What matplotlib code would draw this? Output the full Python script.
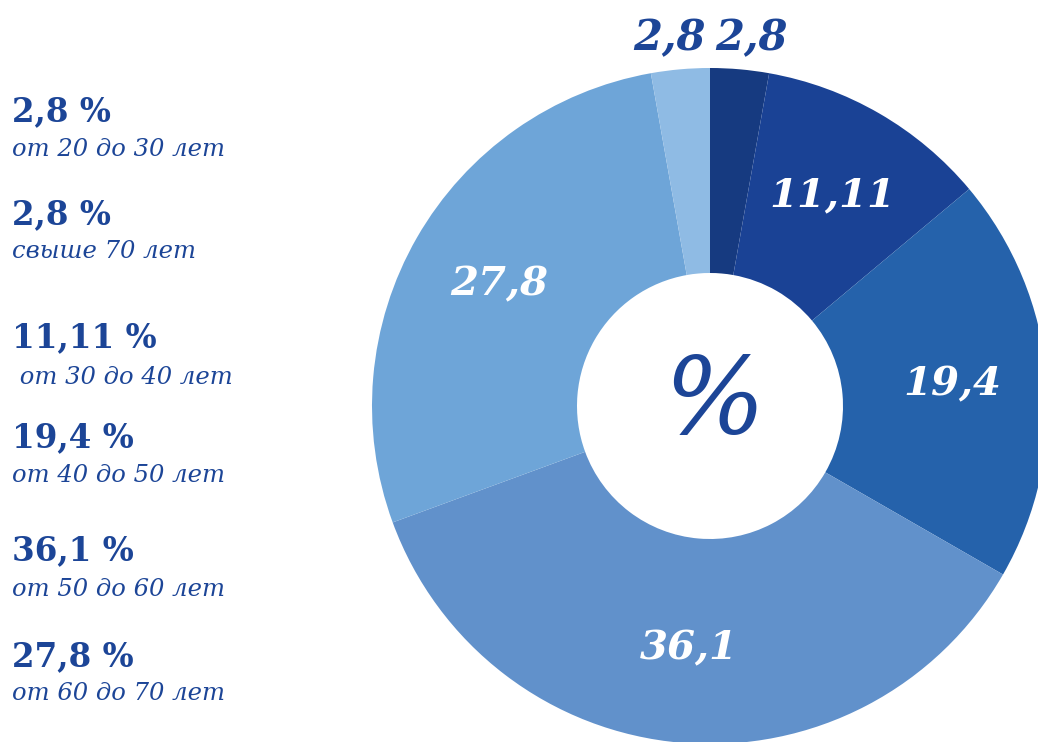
import numpy as np
import matplotlib.pyplot as plt

# age groups, clockwise from the top of the ring
groups = ['свыше 70 лет', 'от 30 до 40 лет', 'от 40 до 50 лет',
          'от 50 до 60 лет', 'от 60 до 70 лет', 'от 20 до 30 лет']
shares = [2.8, 11.11, 19.4, 36.1, 27.8, 2.8]
share_labels = ['2,8', '11,11', '19,4', '36,1', '27,8', '2,8']
colors = ['#163a80', '#1a4295', '#2562ab', '#6191cb', '#6ea5d8', '#8fbbe4']

# left-hand list, top to bottom
legend_values = ['2,8 %', '2,8 %', '11,11 %', '19,4 %', '36,1 %', '27,8 %']
legend_groups = ['от 20 до 30 лет', 'свыше 70 лет', ' от 30 до 40 лет',
                 'от 40 до 50 лет', 'от 50 до 60 лет', 'от 60 до 70 лет']

W, H = 1038, 742
TEXT = '#1c4597'
SERIF = ['DejaVu Serif']


def top(y):
    # pixel rows counted from the top
    return H - y


fig = plt.figure(figsize=(W / 100, H / 100), dpi=100)
ax = fig.add_axes([0, 0, 1, 1])

R_OUT, R_IN = 338, 133
cx, cy = 710, top(406)
wedges, _ = ax.pie(shares, colors=colors, startangle=90, counterclock=False,
                   radius=R_OUT, center=(cx, cy),
                   wedgeprops=dict(width=R_OUT - R_IN, linewidth=0))

for w, lab, val in zip(wedges, share_labels, shares):
    ang = np.deg2rad((w.theta1 + w.theta2) / 2)
    if val < 5:
        # small slices get their label above the ring, side by side
        x = cx + np.sign(np.cos(ang)) * 41
        ax.text(x, cy + 368, lab, color=TEXT, fontsize=30,
                fontweight='bold', fontstyle='italic', family=SERIF,
                ha='center', va='center')
    else:
        r = 0.72 * R_OUT
        ax.text(cx + r * np.cos(ang), cy + r * np.sin(ang), lab,
                color='white', fontsize=29, fontweight='bold',
                fontstyle='italic', family=SERIF, ha='center', va='center')

ax.text(cx + 4, cy + 2, '%', color=TEXT, fontsize=76, fontstyle='italic',
        family=SERIF, ha='center', va='center')

rows_val = [112, 215, 338, 438, 551, 657]
rows_grp = [150, 252, 377, 476, 590, 693]
for v, g, yv, yg in zip(legend_values, legend_groups, rows_val, rows_grp):
    ax.text(12, top(yv), v, color=TEXT, fontsize=23.5, fontweight='bold',
            family=SERIF, ha='left', va='center')
    ax.text(12, top(yg), g, color=TEXT, fontsize=17.5, fontstyle='italic',
            family=SERIF, ha='left', va='center')

ax.set_xlim(0, W)
ax.set_ylim(0, H)
ax.set_aspect('equal')
ax.axis('off')

plt.savefig('out.png', dpi=100)
